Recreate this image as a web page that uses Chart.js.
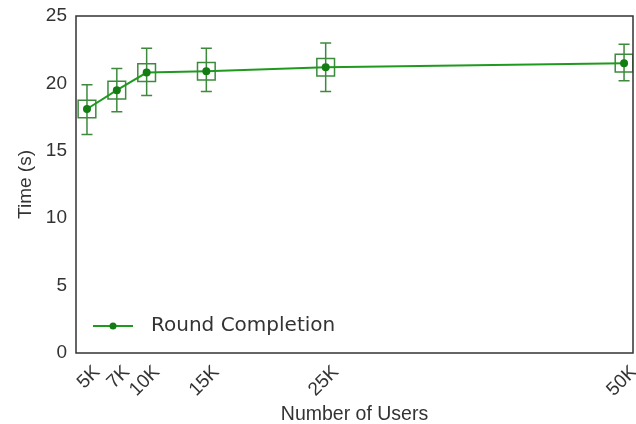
<!DOCTYPE html>
<html>
<head>
<meta charset="utf-8">
<script src="https://cdn.jsdelivr.net/npm/chart.js@4"></script>
<style>
  html, body { margin: 0; padding: 0; background: #fff; }
</style>
</head>
<body>
<canvas id="c" width="636" height="424"></canvas>
<script>
var users = [5, 7.5, 10, 15, 25, 50];          // thousands
var tickLabels = ['5K', '7K', '10K', '15K', '25K', '50K'];
var times = [18.1, 19.5, 20.8, 20.9, 21.2, 21.5];
var errLow = [16.2, 17.9, 19.1, 19.4, 19.4, 20.2];
var errHigh = [19.9, 21.1, 22.6, 22.6, 23.0, 22.9];
var yTicks = [0, 5, 10, 15, 20, 25];

var lineGreen = '#1f9a1f';
var barGreen = '#3d8a3d';
var textColor = '#333';

var pts = users.map(function(u, i) { return { x: u, y: times[i] }; });

var extras = {
  id: 'extras',
  beforeDatasetsDraw: function(chart) {
    var ctx = chart.ctx, xs = chart.scales.x, ys = chart.scales.y;
    ctx.save();
    ctx.strokeStyle = barGreen;
    ctx.lineWidth = 1.5;
    users.forEach(function(u, i) {
      var px = xs.getPixelForValue(u);
      var top = ys.getPixelForValue(errHigh[i]);
      var bot = ys.getPixelForValue(errLow[i]);
      ctx.beginPath();
      ctx.moveTo(px, top); ctx.lineTo(px, bot);
      ctx.moveTo(px - 5.5, top); ctx.lineTo(px + 5.5, top);
      ctx.moveTo(px - 5.5, bot); ctx.lineTo(px + 5.5, bot);
      ctx.stroke();
    });
    ctx.restore();
  },
  afterDatasetsDraw: function(chart) {
    var ctx = chart.ctx, a = chart.chartArea;
    ctx.save();
    // frame
    ctx.strokeStyle = '#333';
    ctx.lineWidth = 1.5;
    ctx.strokeRect(a.left, a.top, a.right - a.left, a.bottom - a.top);
    // legend
    var ly = a.bottom - 27;
    ctx.strokeStyle = lineGreen;
    ctx.lineWidth = 2;
    ctx.beginPath();
    ctx.moveTo(a.left + 17, ly); ctx.lineTo(a.left + 57, ly);
    ctx.stroke();
    ctx.fillStyle = '#137d13';
    ctx.beginPath();
    ctx.arc(a.left + 37, ly, 3.5, 0, Math.PI * 2);
    ctx.fill();
    ctx.fillStyle = textColor;
    ctx.font = '20px "DejaVu Sans"';
    ctx.textBaseline = 'middle';
    ctx.fillText('Round Completion', a.left + 75, ly);
    ctx.restore();
  }
};

new Chart(document.getElementById('c'), {
  type: 'line',
  data: {
    datasets: [{
      label: 'Round Completion',
      data: pts,
      borderColor: lineGreen,
      backgroundColor: '#137d13',
      borderWidth: 2,
      pointRadius: 4,
      pointBorderWidth: 0,
      pointBackgroundColor: '#137d13',
      tension: 0
    }, {
      label: 'box',
      data: pts,
      showLine: false,
      pointStyle: 'rect',
      pointRadius: 12.5,
      pointBorderWidth: 1.5,
      pointBorderColor: barGreen,
      pointBackgroundColor: 'rgba(0,0,0,0)'
    }]
  },
  options: {
    responsive: false,
    animation: false,
    devicePixelRatio: 1,
    layout: { autoPadding: false, padding: { top: 16, right: 3, left: 0, bottom: 0 } },
    plugins: {
      legend: { display: false },
      tooltip: { enabled: false }
    },
    scales: {
      x: {
        type: 'linear',
        min: 4.08,
        max: 50.75,
        border: { display: false },
        grid: { display: false, drawTicks: false },
        afterBuildTicks: function(s) { s.ticks = users.map(function(v) { return { value: v }; }); },
        afterFit: function(s) { s.height = 71; s.paddingLeft = 0; s.paddingRight = 0; },
        ticks: {
          color: textColor,
          font: { family: 'Liberation Sans', size: 19 },
          minRotation: 45,
          maxRotation: 45,
          padding: 8,
          labelOffset: 10,
          callback: function(v) { var i = users.indexOf(v); return i >= 0 ? tickLabels[i] : ''; }
        },
        title: {
          display: true,
          text: 'Number of Users',
          color: textColor,
          font: { family: 'Liberation Sans', size: 19.5, lineHeight: 1 },
          padding: { top: 0, bottom: 0 }
        }
      },
      y: {
        min: 0,
        max: 25,
        border: { display: false },
        grid: { display: false, drawTicks: false },
        afterBuildTicks: function(s) { s.ticks = yTicks.map(function(v) { return { value: v }; }); },
        afterFit: function(s) { s.width = 76; s.paddingTop = 0; s.paddingBottom = 0; },
        ticks: {
          color: textColor,
          font: { family: 'Liberation Sans', size: 19 },
          padding: 9
        },
        title: {
          display: true,
          text: 'Time (s)',
          color: textColor,
          font: { family: 'Liberation Sans', size: 19, lineHeight: 1.2 },
          padding: { top: 14, bottom: 4 }
        }
      }
    }
  },
  plugins: [extras]
});
</script>
</body>
</html>
